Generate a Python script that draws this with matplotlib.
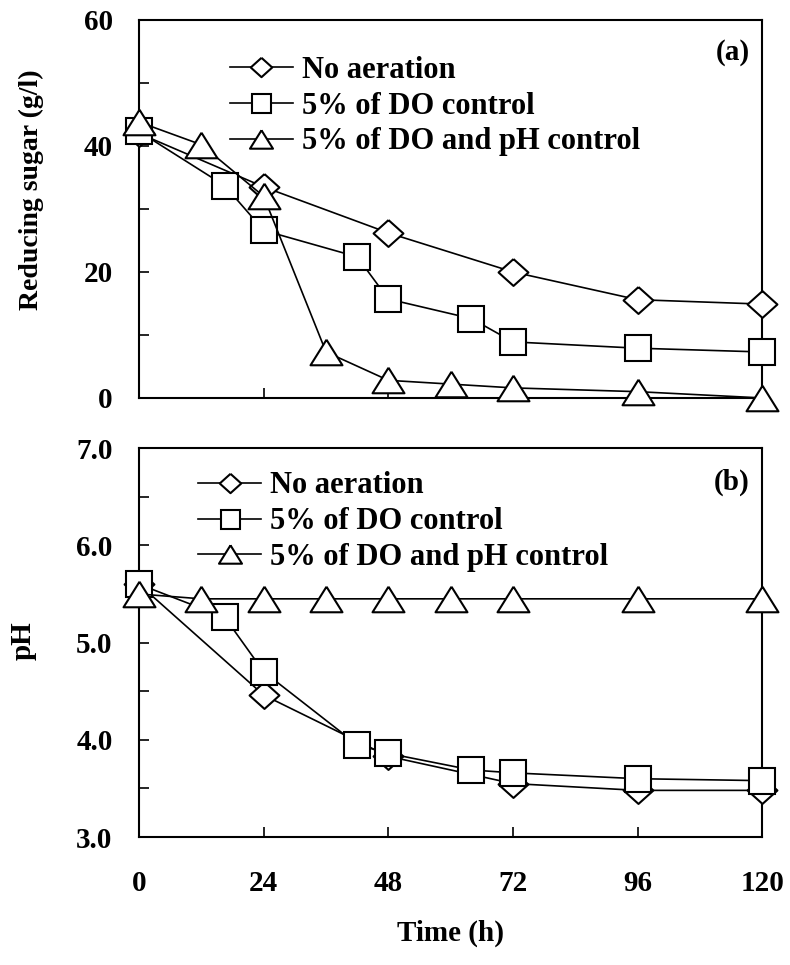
import matplotlib
matplotlib.use("Agg")
import matplotlib.pyplot as plt

# reducing sugar (g/l) for each run
t_none = [0, 24, 48, 72, 96, 120]
sugar_none = [42.0, 33.5, 26.2, 20.0, 15.6, 14.9]
t_do = [0, 16.5, 24, 42, 48, 64, 72, 96, 120]
sugar_do = [42.3, 33.7, 26.6, 22.4, 15.7, 12.6, 8.9, 7.9, 7.3]
t_dph = [0, 12, 24, 36, 48, 60, 72, 96, 120]
sugar_dph = [43.8, 40.2, 32.0, 7.3, 2.8, 2.2, 1.6, 1.0, 0.0]

# pH for each run
ph_none = [5.6, 4.46, 3.83, 3.55, 3.48, 3.48]
ph_do = [5.6, 5.26, 4.7, 3.95, 3.86, 3.69, 3.66, 3.6, 3.58]
ph_dph = [5.5, 5.45, 5.45, 5.45, 5.45, 5.45, 5.45, 5.45, 5.45]

labels = ["No aeration", "5% of DO control", "5% of DO and pH control"]
x_ticks = [0, 24, 48, 72, 96, 120]

plt.rcParams["font.family"] = ["Liberation Serif", "DejaVu Serif"]
plt.rcParams["font.weight"] = "bold"
plt.rcParams["axes.labelweight"] = "bold"

diamond = [(0, 0.9), (1, 0), (0, -0.9), (-1, 0), (0, 0.9)]
triangle = [(0, 0.8), (-1, -0.8), (1, -0.8), (0, 0.8)]
styles = [dict(marker=diamond, markersize=21.5),
          dict(marker="s", markersize=19),
          dict(marker=triangle, markersize=23)]


def draw(ax, series):
    handles = []
    for (x, y), st, lab in zip(series, styles, labels):
        h, = ax.plot(x, y, color="black", lw=1.2, markerfacecolor="white",
                     markeredgecolor="black", markeredgewidth=1.5,
                     clip_on=False, zorder=3, label=lab, **st)
        handles.append(h)
    return handles


fig = plt.figure(figsize=(7.9, 9.65), dpi=100)
ax1 = fig.add_axes([0.176, 0.5876, 0.789, 0.3917])
ax2 = fig.add_axes([0.176, 0.1326, 0.789, 0.403])

draw(ax1, [(t_none, sugar_none), (t_do, sugar_do), (t_dph, sugar_dph)])
draw(ax2, [(t_none, ph_none), (t_do, ph_do), (t_dph, ph_dph)])

for ax in (ax1, ax2):
    ax.set_xlim(0, 120)
    ax.set_xticks(x_ticks)
    ax.tick_params(direction="in", length=7, width=1.2, top=False, right=False,
                   labelsize=21)
    ax.tick_params(axis="y", pad=19)
    ax.tick_params(axis="x", pad=24)
    for sp in ax.spines.values():
        sp.set_linewidth(1.5)

ax1.set_ylim(0, 60)
ax1.set_yticks(range(0, 61, 10))
ax1.set_yticklabels(["0", "", "20", "", "40", "", "60"])
ax1.tick_params(axis="x", labelbottom=False)
ax1.set_ylabel("Reducing sugar (g/l)", fontsize=20)
ax1.yaxis.set_label_coords(-0.152, 0.55)

ax2.set_ylim(3, 7)
ax2.set_yticks([3, 3.5, 4, 4.5, 5, 5.5, 6, 6.5, 7])
ax2.set_yticklabels(["3.0", "", "4.0", "", "5.0", "", "6.0", "", "7.0"])
ax2.set_ylabel("pH", fontsize=21)
ax2.yaxis.set_label_coords(-0.165, 0.506)
ax2.set_xlabel("Time (h)", fontsize=21, labelpad=16)

ax1.text(0.98, 0.913, "(a)", transform=ax1.transAxes, ha="right", va="center",
         fontsize=21)
ax2.text(0.98, 0.913, "(b)", transform=ax2.transAxes, ha="right", va="center",
         fontsize=21)

leg_kw = dict(loc="upper left", frameon=False, fontsize=22, handlelength=2.05,
              handletextpad=0.3, labelspacing=0.22, borderpad=0,
              borderaxespad=0, markerscale=0.72)
ax1.legend(bbox_to_anchor=(0.146, 0.905), **leg_kw)
ax2.legend(bbox_to_anchor=(0.095, 0.94), **leg_kw)

fig.savefig("out.png", dpi=100)
